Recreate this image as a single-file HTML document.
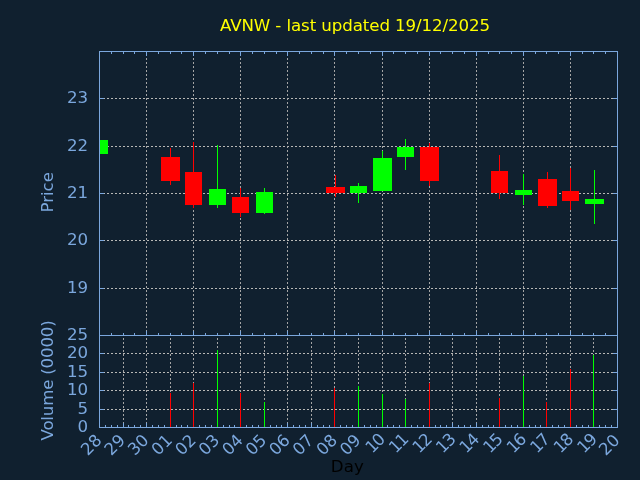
<!DOCTYPE html>
<html lang="en"><head><meta charset="utf-8"><title>AVNW - last updated 19/12/2025</title>
<style>html,body{margin:0;padding:0;background:#10202f;overflow:hidden}svg{display:block}text{font-family:"DejaVu Sans","Liberation Sans",sans-serif;font-size:16.67px}</style></head><body>
<svg width="640" height="480" viewBox="0 0 640 480">
<rect x="0" y="0" width="640" height="480" fill="#10202f"/>
<g stroke="#b8b8b6" stroke-width="1" stroke-dasharray="2 2" fill="none">
<line x1="99.0" y1="98.5" x2="617.0" y2="98.5"/>
<line x1="99.0" y1="146.5" x2="617.0" y2="146.5"/>
<line x1="99.0" y1="193.5" x2="617.0" y2="193.5"/>
<line x1="99.0" y1="240.5" x2="617.0" y2="240.5"/>
<line x1="99.0" y1="288.5" x2="617.0" y2="288.5"/>
<line stroke="#a4a4a4" x1="146.5" y1="336.0" x2="146.5" y2="52.0"/>
<line stroke="#a4a4a4" x1="193.5" y1="336.0" x2="193.5" y2="52.0"/>
<line stroke="#a4a4a4" x1="240.5" y1="336.0" x2="240.5" y2="52.0"/>
<line stroke="#a4a4a4" x1="287.5" y1="336.0" x2="287.5" y2="52.0"/>
<line stroke="#a4a4a4" x1="334.5" y1="336.0" x2="334.5" y2="52.0"/>
<line stroke="#a4a4a4" x1="382.5" y1="336.0" x2="382.5" y2="52.0"/>
<line stroke="#a4a4a4" x1="429.5" y1="336.0" x2="429.5" y2="52.0"/>
<line stroke="#a4a4a4" x1="476.5" y1="336.0" x2="476.5" y2="52.0"/>
<line stroke="#a4a4a4" x1="523.5" y1="336.0" x2="523.5" y2="52.0"/>
<line stroke="#a4a4a4" x1="570.5" y1="336.0" x2="570.5" y2="52.0"/>
<line x1="99.0" y1="353.5" x2="617.0" y2="353.5"/>
<line x1="99.0" y1="372.5" x2="617.0" y2="372.5"/>
<line x1="99.0" y1="390.5" x2="617.0" y2="390.5"/>
<line x1="99.0" y1="409.5" x2="617.0" y2="409.5"/>
<line stroke="#a4a4a4" x1="123.5" y1="428.0" x2="123.5" y2="336.0"/>
<line stroke="#a4a4a4" x1="146.5" y1="428.0" x2="146.5" y2="336.0"/>
<line stroke="#a4a4a4" x1="170.5" y1="428.0" x2="170.5" y2="336.0"/>
<line stroke="#a4a4a4" x1="193.5" y1="428.0" x2="193.5" y2="336.0"/>
<line stroke="#a4a4a4" x1="217.5" y1="428.0" x2="217.5" y2="336.0"/>
<line stroke="#a4a4a4" x1="240.5" y1="428.0" x2="240.5" y2="336.0"/>
<line stroke="#a4a4a4" x1="264.5" y1="428.0" x2="264.5" y2="336.0"/>
<line stroke="#a4a4a4" x1="287.5" y1="428.0" x2="287.5" y2="336.0"/>
<line stroke="#a4a4a4" x1="311.5" y1="428.0" x2="311.5" y2="336.0"/>
<line stroke="#a4a4a4" x1="334.5" y1="428.0" x2="334.5" y2="336.0"/>
<line stroke="#a4a4a4" x1="358.5" y1="428.0" x2="358.5" y2="336.0"/>
<line stroke="#a4a4a4" x1="382.5" y1="428.0" x2="382.5" y2="336.0"/>
<line stroke="#a4a4a4" x1="405.5" y1="428.0" x2="405.5" y2="336.0"/>
<line stroke="#a4a4a4" x1="429.5" y1="428.0" x2="429.5" y2="336.0"/>
<line stroke="#a4a4a4" x1="452.5" y1="428.0" x2="452.5" y2="336.0"/>
<line stroke="#a4a4a4" x1="476.5" y1="428.0" x2="476.5" y2="336.0"/>
<line stroke="#a4a4a4" x1="499.5" y1="428.0" x2="499.5" y2="336.0"/>
<line stroke="#a4a4a4" x1="523.5" y1="428.0" x2="523.5" y2="336.0"/>
<line stroke="#a4a4a4" x1="546.5" y1="428.0" x2="546.5" y2="336.0"/>
<line stroke="#a4a4a4" x1="570.5" y1="428.0" x2="570.5" y2="336.0"/>
<line stroke="#a4a4a4" x1="593.5" y1="428.0" x2="593.5" y2="336.0"/>
</g>
<g stroke="#7ba7dd" stroke-width="1" fill="none" shape-rendering="crispEdges">
<line x1="99.5" y1="98.5" x2="104.0" y2="98.5"/>
<line x1="617.5" y1="98.5" x2="613.0" y2="98.5"/>
<line x1="99.5" y1="146.5" x2="104.0" y2="146.5"/>
<line x1="617.5" y1="146.5" x2="613.0" y2="146.5"/>
<line x1="99.5" y1="193.5" x2="104.0" y2="193.5"/>
<line x1="617.5" y1="193.5" x2="613.0" y2="193.5"/>
<line x1="99.5" y1="240.5" x2="104.0" y2="240.5"/>
<line x1="617.5" y1="240.5" x2="613.0" y2="240.5"/>
<line x1="99.5" y1="288.5" x2="104.0" y2="288.5"/>
<line x1="617.5" y1="288.5" x2="613.0" y2="288.5"/>
<line x1="99.5" y1="353.5" x2="104.0" y2="353.5"/>
<line x1="617.5" y1="353.5" x2="613.0" y2="353.5"/>
<line x1="99.5" y1="372.5" x2="104.0" y2="372.5"/>
<line x1="617.5" y1="372.5" x2="613.0" y2="372.5"/>
<line x1="99.5" y1="390.5" x2="104.0" y2="390.5"/>
<line x1="617.5" y1="390.5" x2="613.0" y2="390.5"/>
<line x1="99.5" y1="409.5" x2="104.0" y2="409.5"/>
<line x1="617.5" y1="409.5" x2="613.0" y2="409.5"/>
<line x1="111.5" y1="51.5" x2="111.5" y2="54.0"/>
<line x1="111.5" y1="335.5" x2="111.5" y2="333.0"/>
<line x1="123.5" y1="51.5" x2="123.5" y2="54.0"/>
<line x1="123.5" y1="335.5" x2="123.5" y2="333.0"/>
<line x1="134.5" y1="51.5" x2="134.5" y2="54.0"/>
<line x1="134.5" y1="335.5" x2="134.5" y2="333.0"/>
<line x1="146.5" y1="51.5" x2="146.5" y2="56.0"/>
<line x1="146.5" y1="335.5" x2="146.5" y2="331.0"/>
<line x1="158.5" y1="51.5" x2="158.5" y2="54.0"/>
<line x1="158.5" y1="335.5" x2="158.5" y2="333.0"/>
<line x1="170.5" y1="51.5" x2="170.5" y2="54.0"/>
<line x1="170.5" y1="335.5" x2="170.5" y2="333.0"/>
<line x1="181.5" y1="51.5" x2="181.5" y2="54.0"/>
<line x1="181.5" y1="335.5" x2="181.5" y2="333.0"/>
<line x1="193.5" y1="51.5" x2="193.5" y2="56.0"/>
<line x1="193.5" y1="335.5" x2="193.5" y2="331.0"/>
<line x1="205.5" y1="51.5" x2="205.5" y2="54.0"/>
<line x1="205.5" y1="335.5" x2="205.5" y2="333.0"/>
<line x1="217.5" y1="51.5" x2="217.5" y2="54.0"/>
<line x1="217.5" y1="335.5" x2="217.5" y2="333.0"/>
<line x1="229.5" y1="51.5" x2="229.5" y2="54.0"/>
<line x1="229.5" y1="335.5" x2="229.5" y2="333.0"/>
<line x1="240.5" y1="51.5" x2="240.5" y2="56.0"/>
<line x1="240.5" y1="335.5" x2="240.5" y2="331.0"/>
<line x1="252.5" y1="51.5" x2="252.5" y2="54.0"/>
<line x1="252.5" y1="335.5" x2="252.5" y2="333.0"/>
<line x1="264.5" y1="51.5" x2="264.5" y2="54.0"/>
<line x1="264.5" y1="335.5" x2="264.5" y2="333.0"/>
<line x1="276.5" y1="51.5" x2="276.5" y2="54.0"/>
<line x1="276.5" y1="335.5" x2="276.5" y2="333.0"/>
<line x1="287.5" y1="51.5" x2="287.5" y2="56.0"/>
<line x1="287.5" y1="335.5" x2="287.5" y2="331.0"/>
<line x1="299.5" y1="51.5" x2="299.5" y2="54.0"/>
<line x1="299.5" y1="335.5" x2="299.5" y2="333.0"/>
<line x1="311.5" y1="51.5" x2="311.5" y2="54.0"/>
<line x1="311.5" y1="335.5" x2="311.5" y2="333.0"/>
<line x1="323.5" y1="51.5" x2="323.5" y2="54.0"/>
<line x1="323.5" y1="335.5" x2="323.5" y2="333.0"/>
<line x1="334.5" y1="51.5" x2="334.5" y2="56.0"/>
<line x1="334.5" y1="335.5" x2="334.5" y2="331.0"/>
<line x1="346.5" y1="51.5" x2="346.5" y2="54.0"/>
<line x1="346.5" y1="335.5" x2="346.5" y2="333.0"/>
<line x1="358.5" y1="51.5" x2="358.5" y2="54.0"/>
<line x1="358.5" y1="335.5" x2="358.5" y2="333.0"/>
<line x1="370.5" y1="51.5" x2="370.5" y2="54.0"/>
<line x1="370.5" y1="335.5" x2="370.5" y2="333.0"/>
<line x1="382.5" y1="51.5" x2="382.5" y2="56.0"/>
<line x1="382.5" y1="335.5" x2="382.5" y2="331.0"/>
<line x1="393.5" y1="51.5" x2="393.5" y2="54.0"/>
<line x1="393.5" y1="335.5" x2="393.5" y2="333.0"/>
<line x1="405.5" y1="51.5" x2="405.5" y2="54.0"/>
<line x1="405.5" y1="335.5" x2="405.5" y2="333.0"/>
<line x1="417.5" y1="51.5" x2="417.5" y2="54.0"/>
<line x1="417.5" y1="335.5" x2="417.5" y2="333.0"/>
<line x1="429.5" y1="51.5" x2="429.5" y2="56.0"/>
<line x1="429.5" y1="335.5" x2="429.5" y2="331.0"/>
<line x1="440.5" y1="51.5" x2="440.5" y2="54.0"/>
<line x1="440.5" y1="335.5" x2="440.5" y2="333.0"/>
<line x1="452.5" y1="51.5" x2="452.5" y2="54.0"/>
<line x1="452.5" y1="335.5" x2="452.5" y2="333.0"/>
<line x1="464.5" y1="51.5" x2="464.5" y2="54.0"/>
<line x1="464.5" y1="335.5" x2="464.5" y2="333.0"/>
<line x1="476.5" y1="51.5" x2="476.5" y2="56.0"/>
<line x1="476.5" y1="335.5" x2="476.5" y2="331.0"/>
<line x1="488.5" y1="51.5" x2="488.5" y2="54.0"/>
<line x1="488.5" y1="335.5" x2="488.5" y2="333.0"/>
<line x1="499.5" y1="51.5" x2="499.5" y2="54.0"/>
<line x1="499.5" y1="335.5" x2="499.5" y2="333.0"/>
<line x1="511.5" y1="51.5" x2="511.5" y2="54.0"/>
<line x1="511.5" y1="335.5" x2="511.5" y2="333.0"/>
<line x1="523.5" y1="51.5" x2="523.5" y2="56.0"/>
<line x1="523.5" y1="335.5" x2="523.5" y2="331.0"/>
<line x1="535.5" y1="51.5" x2="535.5" y2="54.0"/>
<line x1="535.5" y1="335.5" x2="535.5" y2="333.0"/>
<line x1="546.5" y1="51.5" x2="546.5" y2="54.0"/>
<line x1="546.5" y1="335.5" x2="546.5" y2="333.0"/>
<line x1="558.5" y1="51.5" x2="558.5" y2="54.0"/>
<line x1="558.5" y1="335.5" x2="558.5" y2="333.0"/>
<line x1="570.5" y1="51.5" x2="570.5" y2="56.0"/>
<line x1="570.5" y1="335.5" x2="570.5" y2="331.0"/>
<line x1="582.5" y1="51.5" x2="582.5" y2="54.0"/>
<line x1="582.5" y1="335.5" x2="582.5" y2="333.0"/>
<line x1="593.5" y1="51.5" x2="593.5" y2="54.0"/>
<line x1="593.5" y1="335.5" x2="593.5" y2="333.0"/>
<line x1="605.5" y1="51.5" x2="605.5" y2="54.0"/>
<line x1="605.5" y1="335.5" x2="605.5" y2="333.0"/>
<line x1="105.5" y1="427.5" x2="105.5" y2="425.0"/>
<line x1="111.5" y1="427.5" x2="111.5" y2="425.0"/>
<line x1="117.5" y1="427.5" x2="117.5" y2="425.0"/>
<line x1="123.5" y1="427.5" x2="123.5" y2="423.0"/>
<line x1="128.5" y1="427.5" x2="128.5" y2="425.0"/>
<line x1="134.5" y1="427.5" x2="134.5" y2="425.0"/>
<line x1="140.5" y1="427.5" x2="140.5" y2="425.0"/>
<line x1="146.5" y1="427.5" x2="146.5" y2="423.0"/>
<line x1="152.5" y1="427.5" x2="152.5" y2="425.0"/>
<line x1="158.5" y1="427.5" x2="158.5" y2="425.0"/>
<line x1="164.5" y1="427.5" x2="164.5" y2="425.0"/>
<line x1="170.5" y1="427.5" x2="170.5" y2="423.0"/>
<line x1="176.5" y1="427.5" x2="176.5" y2="425.0"/>
<line x1="181.5" y1="427.5" x2="181.5" y2="425.0"/>
<line x1="187.5" y1="427.5" x2="187.5" y2="425.0"/>
<line x1="193.5" y1="427.5" x2="193.5" y2="423.0"/>
<line x1="199.5" y1="427.5" x2="199.5" y2="425.0"/>
<line x1="205.5" y1="427.5" x2="205.5" y2="425.0"/>
<line x1="211.5" y1="427.5" x2="211.5" y2="425.0"/>
<line x1="217.5" y1="427.5" x2="217.5" y2="423.0"/>
<line x1="223.5" y1="427.5" x2="223.5" y2="425.0"/>
<line x1="229.5" y1="427.5" x2="229.5" y2="425.0"/>
<line x1="234.5" y1="427.5" x2="234.5" y2="425.0"/>
<line x1="240.5" y1="427.5" x2="240.5" y2="423.0"/>
<line x1="246.5" y1="427.5" x2="246.5" y2="425.0"/>
<line x1="252.5" y1="427.5" x2="252.5" y2="425.0"/>
<line x1="258.5" y1="427.5" x2="258.5" y2="425.0"/>
<line x1="264.5" y1="427.5" x2="264.5" y2="423.0"/>
<line x1="270.5" y1="427.5" x2="270.5" y2="425.0"/>
<line x1="276.5" y1="427.5" x2="276.5" y2="425.0"/>
<line x1="281.5" y1="427.5" x2="281.5" y2="425.0"/>
<line x1="287.5" y1="427.5" x2="287.5" y2="423.0"/>
<line x1="293.5" y1="427.5" x2="293.5" y2="425.0"/>
<line x1="299.5" y1="427.5" x2="299.5" y2="425.0"/>
<line x1="305.5" y1="427.5" x2="305.5" y2="425.0"/>
<line x1="311.5" y1="427.5" x2="311.5" y2="423.0"/>
<line x1="317.5" y1="427.5" x2="317.5" y2="425.0"/>
<line x1="323.5" y1="427.5" x2="323.5" y2="425.0"/>
<line x1="329.5" y1="427.5" x2="329.5" y2="425.0"/>
<line x1="334.5" y1="427.5" x2="334.5" y2="423.0"/>
<line x1="340.5" y1="427.5" x2="340.5" y2="425.0"/>
<line x1="346.5" y1="427.5" x2="346.5" y2="425.0"/>
<line x1="352.5" y1="427.5" x2="352.5" y2="425.0"/>
<line x1="358.5" y1="427.5" x2="358.5" y2="423.0"/>
<line x1="364.5" y1="427.5" x2="364.5" y2="425.0"/>
<line x1="370.5" y1="427.5" x2="370.5" y2="425.0"/>
<line x1="376.5" y1="427.5" x2="376.5" y2="425.0"/>
<line x1="382.5" y1="427.5" x2="382.5" y2="423.0"/>
<line x1="387.5" y1="427.5" x2="387.5" y2="425.0"/>
<line x1="393.5" y1="427.5" x2="393.5" y2="425.0"/>
<line x1="399.5" y1="427.5" x2="399.5" y2="425.0"/>
<line x1="405.5" y1="427.5" x2="405.5" y2="423.0"/>
<line x1="411.5" y1="427.5" x2="411.5" y2="425.0"/>
<line x1="417.5" y1="427.5" x2="417.5" y2="425.0"/>
<line x1="423.5" y1="427.5" x2="423.5" y2="425.0"/>
<line x1="429.5" y1="427.5" x2="429.5" y2="423.0"/>
<line x1="435.5" y1="427.5" x2="435.5" y2="425.0"/>
<line x1="440.5" y1="427.5" x2="440.5" y2="425.0"/>
<line x1="446.5" y1="427.5" x2="446.5" y2="425.0"/>
<line x1="452.5" y1="427.5" x2="452.5" y2="423.0"/>
<line x1="458.5" y1="427.5" x2="458.5" y2="425.0"/>
<line x1="464.5" y1="427.5" x2="464.5" y2="425.0"/>
<line x1="470.5" y1="427.5" x2="470.5" y2="425.0"/>
<line x1="476.5" y1="427.5" x2="476.5" y2="423.0"/>
<line x1="482.5" y1="427.5" x2="482.5" y2="425.0"/>
<line x1="488.5" y1="427.5" x2="488.5" y2="425.0"/>
<line x1="493.5" y1="427.5" x2="493.5" y2="425.0"/>
<line x1="499.5" y1="427.5" x2="499.5" y2="423.0"/>
<line x1="505.5" y1="427.5" x2="505.5" y2="425.0"/>
<line x1="511.5" y1="427.5" x2="511.5" y2="425.0"/>
<line x1="517.5" y1="427.5" x2="517.5" y2="425.0"/>
<line x1="523.5" y1="427.5" x2="523.5" y2="423.0"/>
<line x1="529.5" y1="427.5" x2="529.5" y2="425.0"/>
<line x1="535.5" y1="427.5" x2="535.5" y2="425.0"/>
<line x1="540.5" y1="427.5" x2="540.5" y2="425.0"/>
<line x1="546.5" y1="427.5" x2="546.5" y2="423.0"/>
<line x1="552.5" y1="427.5" x2="552.5" y2="425.0"/>
<line x1="558.5" y1="427.5" x2="558.5" y2="425.0"/>
<line x1="564.5" y1="427.5" x2="564.5" y2="425.0"/>
<line x1="570.5" y1="427.5" x2="570.5" y2="423.0"/>
<line x1="576.5" y1="427.5" x2="576.5" y2="425.0"/>
<line x1="582.5" y1="427.5" x2="582.5" y2="425.0"/>
<line x1="588.5" y1="427.5" x2="588.5" y2="425.0"/>
<line x1="593.5" y1="427.5" x2="593.5" y2="423.0"/>
<line x1="599.5" y1="427.5" x2="599.5" y2="425.0"/>
<line x1="605.5" y1="427.5" x2="605.5" y2="425.0"/>
<line x1="611.5" y1="427.5" x2="611.5" y2="425.0"/>
</g>
<g shape-rendering="crispEdges">
<rect x="100" y="140" width="8" height="14" fill="#00ff00"/>
<rect x="170" y="148" width="1" height="37" fill="#ff0000"/>
<rect x="161" y="157" width="19" height="24" fill="#ff0000"/>
<rect x="193" y="142" width="1" height="66" fill="#ff0000"/>
<rect x="185" y="172" width="17" height="33" fill="#ff0000"/>
<rect x="217" y="145" width="1" height="63" fill="#00ff00"/>
<rect x="209" y="189" width="17" height="16" fill="#00ff00"/>
<rect x="240" y="188" width="1" height="29" fill="#ff0000"/>
<rect x="232" y="197" width="17" height="16" fill="#ff0000"/>
<rect x="264" y="188" width="1" height="26" fill="#00ff00"/>
<rect x="256" y="192" width="17" height="21" fill="#00ff00"/>
<rect x="335" y="175" width="1" height="22" fill="#ff0000"/>
<rect x="326" y="187" width="19" height="6" fill="#ff0000"/>
<rect x="358" y="183" width="1" height="20" fill="#00ff00"/>
<rect x="350" y="186" width="17" height="7" fill="#00ff00"/>
<rect x="382" y="151" width="1" height="40" fill="#00ff00"/>
<rect x="373" y="158" width="19" height="33" fill="#00ff00"/>
<rect x="405" y="139" width="1" height="31" fill="#00ff00"/>
<rect x="397" y="147" width="17" height="10" fill="#00ff00"/>
<rect x="429" y="143" width="1" height="43" fill="#ff0000"/>
<rect x="420" y="147" width="19" height="34" fill="#ff0000"/>
<rect x="499" y="155" width="1" height="44" fill="#ff0000"/>
<rect x="491" y="171" width="17" height="22" fill="#ff0000"/>
<rect x="523" y="174" width="1" height="31" fill="#00ff00"/>
<rect x="515" y="190" width="17" height="5" fill="#00ff00"/>
<rect x="547" y="172" width="1" height="36" fill="#ff0000"/>
<rect x="538" y="179" width="19" height="27" fill="#ff0000"/>
<rect x="570" y="168" width="1" height="42" fill="#ff0000"/>
<rect x="562" y="191" width="17" height="10" fill="#ff0000"/>
<rect x="594" y="170" width="1" height="54" fill="#00ff00"/>
<rect x="585" y="199" width="19" height="5" fill="#00ff00"/>
</g>
<g shape-rendering="crispEdges">
<rect x="170" y="393" width="1" height="34" fill="#ff0000"/>
<rect x="193" y="383" width="1" height="44" fill="#ff0000"/>
<rect x="217" y="350" width="1" height="77" fill="#00ff00"/>
<rect x="240" y="393" width="1" height="34" fill="#ff0000"/>
<rect x="264" y="402" width="1" height="25" fill="#00ff00"/>
<rect x="334" y="388" width="1" height="39" fill="#ff0000"/>
<rect x="358" y="386" width="1" height="41" fill="#00ff00"/>
<rect x="382" y="394" width="1" height="33" fill="#00ff00"/>
<rect x="405" y="399" width="1" height="28" fill="#00ff00"/>
<rect x="429" y="383" width="1" height="44" fill="#ff0000"/>
<rect x="499" y="398" width="1" height="29" fill="#ff0000"/>
<rect x="523" y="376" width="1" height="51" fill="#00ff00"/>
<rect x="546" y="402" width="1" height="25" fill="#ff0000"/>
<rect x="570" y="369" width="1" height="58" fill="#ff0000"/>
<rect x="593" y="355" width="1" height="72" fill="#00ff00"/>
</g>
<g stroke="#7ba7dd" stroke-width="1" fill="none" shape-rendering="crispEdges">
<rect x="99.5" y="51.5" width="518.0" height="376.0"/>
<line x1="99.5" y1="335.5" x2="617.5" y2="335.5"/>
</g>
<g fill="#7ba7dd">
<text x="88.2" y="102.5" text-anchor="end">23</text>
<text x="88.2" y="150.5" text-anchor="end">22</text>
<text x="88.2" y="197.5" text-anchor="end">21</text>
<text x="88.2" y="244.5" text-anchor="end">20</text>
<text x="88.2" y="292.5" text-anchor="end">19</text>
<text x="88.2" y="339.5" text-anchor="end">25</text>
<text x="88.2" y="357.5" text-anchor="end">20</text>
<text x="88.2" y="376.5" text-anchor="end">15</text>
<text x="88.2" y="394.5" text-anchor="end">10</text>
<text x="88.2" y="413.5" text-anchor="end">5</text>
<text x="88.2" y="431.5" text-anchor="end">0</text>
<text transform="translate(102.70,441.20) rotate(-45)" text-anchor="end">28</text>
<text transform="translate(126.25,441.20) rotate(-45)" text-anchor="end">29</text>
<text transform="translate(149.79,441.20) rotate(-45)" text-anchor="end">30</text>
<text transform="translate(173.34,441.20) rotate(-45)" text-anchor="end">01</text>
<text transform="translate(196.88,441.20) rotate(-45)" text-anchor="end">02</text>
<text transform="translate(220.43,441.20) rotate(-45)" text-anchor="end">03</text>
<text transform="translate(243.97,441.20) rotate(-45)" text-anchor="end">04</text>
<text transform="translate(267.52,441.20) rotate(-45)" text-anchor="end">05</text>
<text transform="translate(291.06,441.20) rotate(-45)" text-anchor="end">06</text>
<text transform="translate(314.61,441.20) rotate(-45)" text-anchor="end">07</text>
<text transform="translate(338.15,441.20) rotate(-45)" text-anchor="end">08</text>
<text transform="translate(361.70,441.20) rotate(-45)" text-anchor="end">09</text>
<text transform="translate(386.25,439.90) rotate(-45)" text-anchor="end">1<tspan dx="-1.3">0</tspan></text>
<text transform="translate(409.79,439.90) rotate(-45)" text-anchor="end">1<tspan dx="-1.3">1</tspan></text>
<text transform="translate(433.34,439.90) rotate(-45)" text-anchor="end">1<tspan dx="-1.3">2</tspan></text>
<text transform="translate(456.88,439.90) rotate(-45)" text-anchor="end">1<tspan dx="-1.3">3</tspan></text>
<text transform="translate(480.43,439.90) rotate(-45)" text-anchor="end">1<tspan dx="-1.3">4</tspan></text>
<text transform="translate(503.97,439.90) rotate(-45)" text-anchor="end">1<tspan dx="-1.3">5</tspan></text>
<text transform="translate(527.52,439.90) rotate(-45)" text-anchor="end">1<tspan dx="-1.3">6</tspan></text>
<text transform="translate(551.06,439.90) rotate(-45)" text-anchor="end">1<tspan dx="-1.3">7</tspan></text>
<text transform="translate(574.61,439.90) rotate(-45)" text-anchor="end">1<tspan dx="-1.3">8</tspan></text>
<text transform="translate(598.15,439.90) rotate(-45)" text-anchor="end">1<tspan dx="-1.3">9</tspan></text>
<text transform="translate(620.70,441.20) rotate(-45)" text-anchor="end">20</text>
<text transform="translate(52.5,192.3) rotate(-90)" text-anchor="middle">Price</text>
<text transform="translate(52.5,380.5) rotate(-90)" text-anchor="middle" letter-spacing="-0.2">Volume (0000)</text>
</g>
<text x="355" y="30.6" text-anchor="middle" letter-spacing="-0.1" fill="#ffff00">AVNW - last updated 19/12/2025</text>
<text x="347.3" y="471.5" text-anchor="middle" fill="#000000">Day</text>
</svg></body></html>
